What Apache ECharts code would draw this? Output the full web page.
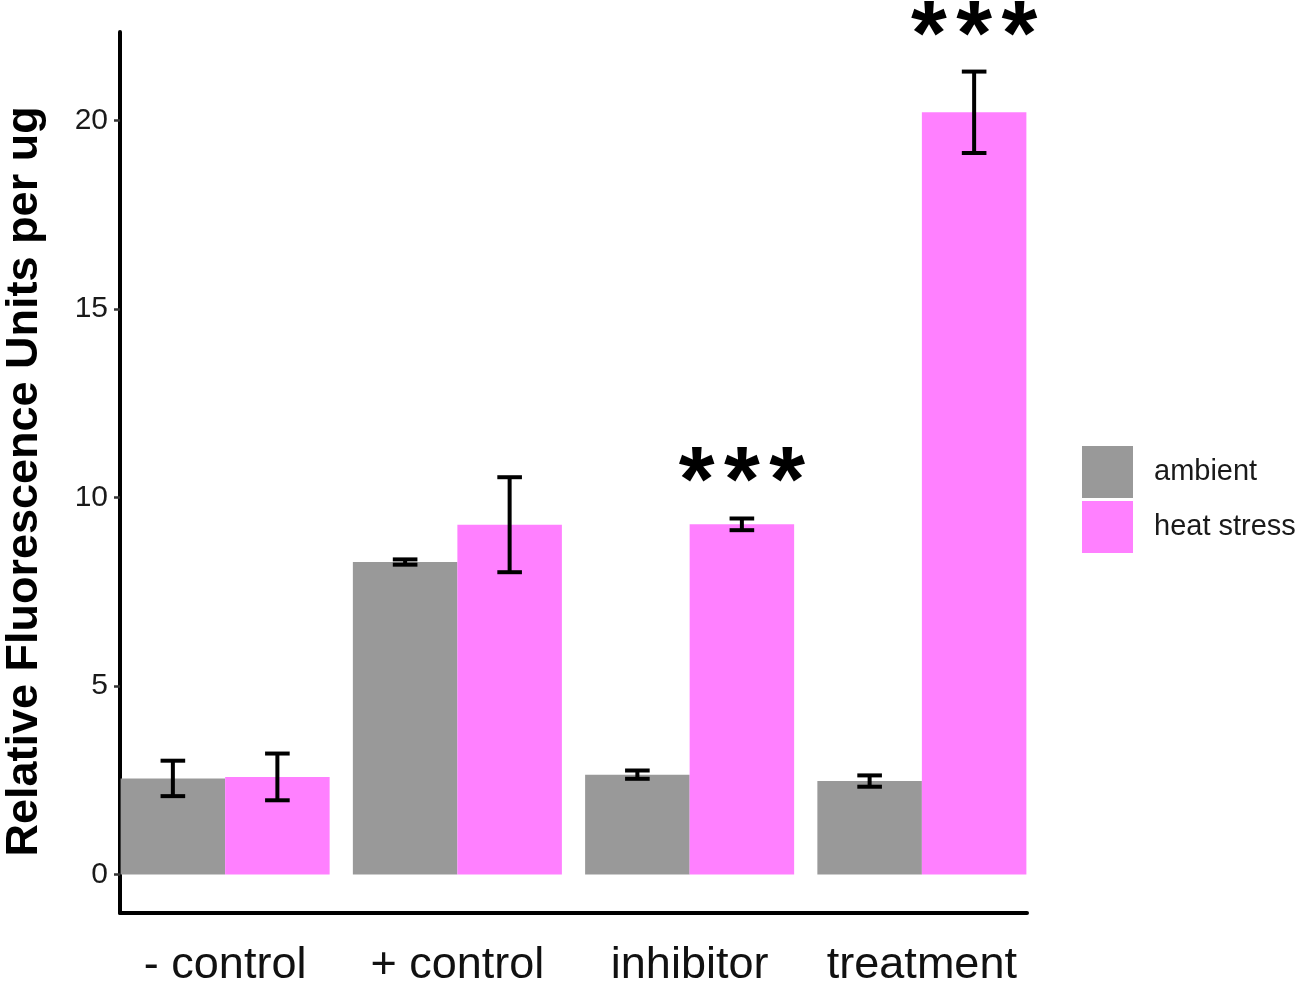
<!DOCTYPE html>
<html>
<head>
<meta charset="utf-8">
<script src="https://cdn.jsdelivr.net/npm/echarts@6/dist/echarts.min.js"></script>
<style>
  html, body { margin: 0; padding: 0; background: #fff; }
  #chart { width: 1299px; height: 984px; }
</style>
</head>
<body>
<div id="chart"></div>
<script>
// data
var categories = ['- control', '+ control', 'inhibitor', 'treatment'];
var seriesNames = ['ambient', 'heat stress'];
var ambientMean = [2.55, 8.29, 2.65, 2.48];
var ambientErr = [0.47, 0.07, 0.11, 0.15];
var heatMean = [2.59, 9.28, 9.29, 20.22];
var heatErr = [0.62, 1.26, 0.155, 1.08];
var heatStars = [0, 0, 3, 3];
var yTicks = [0, 5, 10, 15, 20];
var yMin = -1.02, yMax = 22.35;

var colors = ['#999999', '#FF80FF'];

// error bar items: [category, group, mean, err, number of stars]
var errData = [];
for (var i = 0; i < categories.length; i++) {
	errData.push([i, 0, ambientMean[i], ambientErr[i], 0]);
	errData.push([i, 1, heatMean[i], heatErr[i], heatStars[i]]);
}

var chart = echarts.init(document.getElementById('chart'));
chart.setOption({
	animation: false,
	backgroundColor: '#ffffff',
	grid: [
		// bars
		{ left: 109, width: 929, top: 32, bottom: 71, outerBoundsMode: 'none' },
		// visible axis frame
		{ left: 120, width: 907, top: 32, bottom: 71, outerBoundsMode: 'none' }
	],
	legend: {
		orient: 'vertical',
		left: 1082,
		top: 446,
		padding: 0,
		itemWidth: 51,
		itemHeight: 52,
		itemGap: 3,
		icon: 'rect',
		data: seriesNames,
		textStyle: {
			fontFamily: 'Liberation Sans, Arial, sans-serif',
			fontSize: 29,
			color: '#1a1a1a',
			padding: [0, 0, 0, 16]
		}
	},
	xAxis: [
		{
			gridIndex: 0,
			type: 'category',
			data: categories,
			axisLine: { show: false, onZero: false },
			axisTick: { show: false },
			axisLabel: {
				interval: 0,
				margin: 30,
				fontFamily: 'Liberation Sans, Arial, sans-serif',
				fontSize: 45,
				color: '#111'
			}
		},
		{
			gridIndex: 1,
			type: 'value',
			min: 0,
			max: 1,
			axisLine: { show: true, onZero: false, lineStyle: { color: '#000', width: 4 } },
			axisTick: { show: false },
			axisLabel: { show: false },
			splitLine: { show: false }
		}
	],
	yAxis: [
		{
			gridIndex: 0,
			type: 'value',
			min: yMin,
			max: yMax,
			show: false
		},
		{
			gridIndex: 1,
			type: 'value',
			min: yMin,
			max: yMax,
			name: 'Relative Fluorescence Units per ug',
			nameLocation: 'middle',
			nameGap: 73,
			nameTextStyle: {
				fontFamily: 'Liberation Sans, Arial, sans-serif',
				fontSize: 45,
				fontWeight: 'bold',
				color: '#000',
				padding: [0, 18, 0, 0]
			},
			axisLine: { show: true, onZero: false, lineStyle: { color: '#000', width: 4 } },
			axisTick: {
				show: true,
				length: 6,
				customValues: yTicks,
				lineStyle: { color: '#333', width: 2.5 }
			},
			axisLabel: {
				customValues: yTicks,
				margin: 12,
				fontFamily: 'Liberation Sans, Arial, sans-serif',
				fontSize: 30,
				color: '#1a1a1a'
			},
			splitLine: { show: false }
		}
	],
	series: [
		{
			name: seriesNames[0],
			type: 'bar',
			xAxisIndex: 0,
			yAxisIndex: 0,
			barWidth: '45%',
			barGap: '0%',
			itemStyle: { color: colors[0] },
			data: ambientMean
		},
		{
			name: seriesNames[1],
			type: 'bar',
			xAxisIndex: 0,
			yAxisIndex: 0,
			barWidth: '45%',
			barGap: '0%',
			itemStyle: { color: colors[1] },
			data: heatMean
		},
		{
			type: 'custom',
			xAxisIndex: 0,
			yAxisIndex: 0,
			silent: true,
			clip: false,
			z: 10,
			data: errData,
			renderItem: function (params, api) {
				var cat = api.value(0), grp = api.value(1);
				var m = api.value(2), e = api.value(3);
				var nStars = api.value(4);
				var band = api.size([1, 0])[0];
				var cx = api.coord([cat, m])[0] + (grp === 0 ? -1 : 1) * band * 0.225;
				var yTop = api.coord([cat, m + e])[1];
				var yBot = api.coord([cat, m - e])[1];
				var hw = band * 0.053;
				var st = { stroke: '#000', lineWidth: 4 };
				var kids = [
					{ type: 'line', shape: { x1: cx, y1: yTop, x2: cx, y2: yBot }, style: st },
					{ type: 'line', shape: { x1: cx - hw, y1: yTop, x2: cx + hw, y2: yTop }, style: st },
					{ type: 'line', shape: { x1: cx - hw, y1: yBot, x2: cx + hw, y2: yBot }, style: st }
				];
				// significance stars above the error bar
				var ys = api.coord([cat, m + e + 0.86])[1];
				var step = band * 0.195;
				for (var k = 0; k < nStars; k++) {
					kids.push({
						type: 'text',
						x: cx + (k - (nStars - 1) / 2) * step,
						y: ys,
						style: {
							text: '*',
							fill: '#000',
							fontFamily: 'Liberation Sans, Arial, sans-serif',
							fontWeight: 'bold',
							fontSize: 92,
							align: 'center',
							verticalAlign: 'middle'
						}
					});
				}
				return { type: 'group', children: kids };
			}
		}
	]
});
</script>
</body>
</html>
